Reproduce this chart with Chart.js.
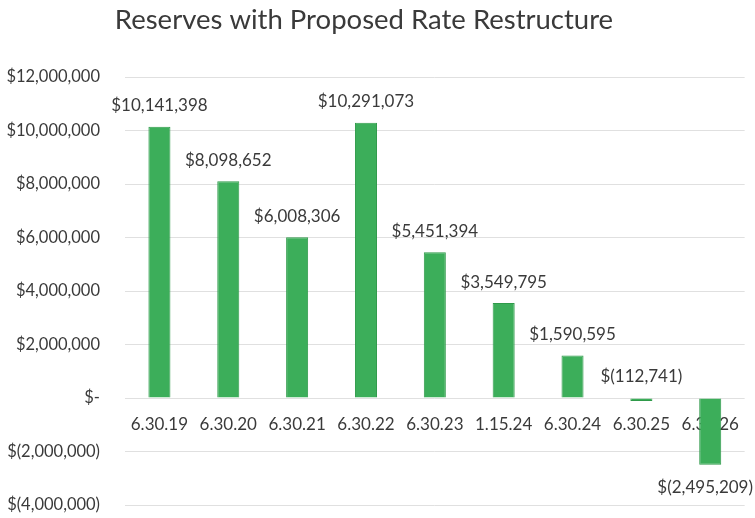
<!DOCTYPE html>
<html><head><meta charset="utf-8">
<script src="https://cdn.jsdelivr.net/npm/chart.js@4/dist/chart.umd.min.js"></script>
<style>html,body{margin:0;padding:0;background:#fff}#wrap{width:755px;height:518px}</style>
</head><body><div id="wrap"><canvas id="c" width="755" height="518"></canvas></div>
<script>
const chartTitle = 'Reserves with Proposed Rate Restructure';
const categories = ['6.30.19','6.30.20','6.30.21','6.30.22','6.30.23','1.15.24','6.30.24','6.30.25','6.30.26'];
const reserves = [10141398, 8098652, 6008306, 10291073, 5451394, 3549795, 1590595, -112741, -2495209];
const yMin = -4000000, yMax = 12000000, yStep = 2000000;

const FONT = 'Lato, "Open Sans", sans-serif';
const TEXT = '#3a3a3a';

function acct(v){
  if (v === 0) return '$-';
  const s = Math.abs(v).toLocaleString('en-US');
  return v < 0 ? '$(' + s + ')' : '$' + s;
}

const titlePlugin = {
  id: 'customTitle',
  afterDraw(chart){
    const ctx = chart.ctx;
    ctx.save();
    ctx.font = '27.5px ' + FONT;
    ctx.fillStyle = TEXT;
    ctx.textAlign = 'center';
    ctx.textBaseline = 'middle';
    ctx.fillText(chartTitle, 364, 20);
    ctx.restore();
  }
};

const labelPlugin = {
  id: 'valueLabels',
  afterDatasetsDraw(chart){
    const ctx = chart.ctx;
    const meta = chart.getDatasetMeta(0);
    const yScale = chart.scales.y;
    const zero = yScale.getPixelForValue(0);
    ctx.save();
    ctx.font = '17px ' + FONT;
    ctx.fillStyle = TEXT;
    ctx.textAlign = 'center';
    ctx.textBaseline = 'middle';
    meta.data.forEach((bar, i) => {
      const v = reserves[i];
      const txt = acct(v);
      const w = ctx.measureText(txt).width;
      let x = bar.x;
      if (x + w/2 > chart.width - 2) x = chart.width - 2 - w/2;
      let y;
      if (v >= 0) y = bar.y - 21;
      else if (Math.abs(v) < 500000) y = zero - 21;
      else y = bar.y + 23;
      ctx.fillText(txt, x, y);
    });
    ctx.restore();
  }
};

new Chart(document.getElementById('c'), {
  type: 'bar',
  data: {
    labels: categories,
    datasets: [{
      data: reserves,
      backgroundColor: '#3cae5a',
      borderColor: '#2f9a4a',
      borderWidth: 1,
      barPercentage: 0.32,
      categoryPercentage: 1.0
    }]
  },
  options: {
    responsive: false,
    animation: false,
    devicePixelRatio: 1,
    layout: { padding: { left: 0, right: 2, top: 77, bottom: 13 } },
    plugins: {
      legend: { display: false },
      tooltip: { enabled: false },
      title: { display: false }
    },
    scales: {
      x: {
        position: { y: 0 },
        grid: { display: false, drawTicks: false },
        border: { display: false },
        afterFit(s){ s.height = 0; },
        ticks: { color: TEXT, font: { family: FONT, size: 17 }, padding: 16, maxRotation: 0 }
      },
      y: {
        min: yMin, max: yMax,
        grid: { color: '#e0e0e0', drawTicks: false },
        border: { display: false },
        afterFit(s){ s.width = 125; s.paddingTop = 0; s.paddingBottom = 0; },
        ticks: {
          stepSize: yStep,
          color: TEXT,
          font: { family: FONT, size: 16.5 },
          padding: 25,
          callback: v => acct(v)
        }
      }
    }
  },
  plugins: [labelPlugin, titlePlugin]
});
</script>
</body></html>
